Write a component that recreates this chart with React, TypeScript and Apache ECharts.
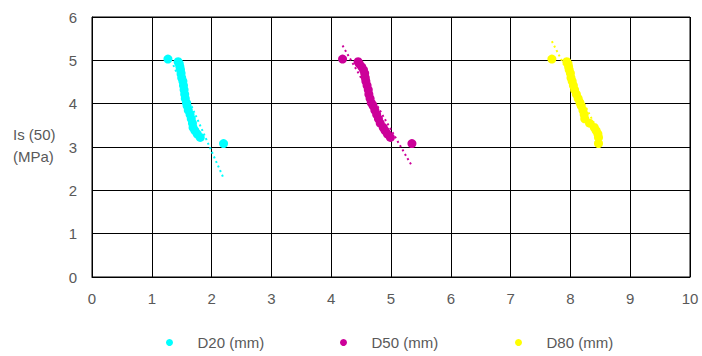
import React, { useEffect, useRef } from "react";
import * as echarts from "echarts";

const isValues = [5.03, 4.97, 4.92, 4.85, 4.78, 4.7, 4.6, 4.52, 4.42, 4.32, 4.22, 4.12, 4.02, 3.95, 3.85, 3.75, 3.65, 3.55, 3.45, 3.38, 3.3, 3.22, 3.08];
const d20 = [1.27, 1.44, 1.46, 1.47, 1.48, 1.49, 1.5, 1.52, 1.53, 1.54, 1.55, 1.56, 1.58, 1.59, 1.61, 1.64, 1.66, 1.68, 1.69, 1.72, 1.76, 1.81, 2.2];
const d50 = [4.19, 4.45, 4.47, 4.51, 4.54, 4.56, 4.57, 4.58, 4.6, 4.62, 4.63, 4.65, 4.67, 4.7, 4.73, 4.76, 4.79, 4.82, 4.87, 4.9, 4.94, 4.99, 5.35];
const d80 = [7.69, 7.94, 7.96, 7.97, 7.98, 8.0, 8.01, 8.03, 8.05, 8.07, 8.1, 8.13, 8.16, 8.18, 8.21, 8.23, 8.24, 8.32, 8.4, 8.43, 8.46, 8.47, 8.47];

// trendline endpoints: [x0, y0, x1, y1]
const trend20 = [1.36, 4.89, 2.2, 2.28];
const trend50 = [4.19, 5.34, 5.35, 2.56];
const trend80 = [7.69, 5.44, 8.47, 3.35];

const seriesNames = ["D20 (mm)", "D50 (mm)", "D80 (mm)"];
const seriesColors = ["#00FFFF", "#CC0099", "#FFFF00"];
const xTicks = [0, 1, 2, 3, 4, 5, 6, 7, 8, 9, 10];
const yTicks = [0, 1, 2, 3, 4, 5, 6];

const FONT = "'Liberation Sans', Arial, sans-serif";

export default function App() {
  const ref = useRef<HTMLDivElement>(null);
  useEffect(() => {
    if (!ref.current) return;
    const chart = echarts.init(ref.current, undefined, { renderer: "svg" });
    const xs = [d20, d50, d80];
    const trends = [trend20, trend50, trend80];
    const series: any[] = [];
    xs.forEach((arr, i) => {
      const t = trends[i];
      series.push({
        name: seriesNames[i] + " trend",
        type: "line",
        data: [[t[0], t[1]], [t[2], t[3]]],
        symbol: "none",
        lineStyle: { color: seriesColors[i], width: 2, type: [2, 3] },
        z: 1,
        silent: true,
      });
    });
    xs.forEach((arr, i) => {
      series.push({
        name: seriesNames[i],
        type: "scatter",
        data: arr.map((x, k) => [x, isValues[k]]),
        symbol: "circle",
        symbolSize: 9,
        itemStyle: { color: seriesColors[i], opacity: 1 },
        z: 3,
      });
    });
    const legendLefts = [161, 335, 510];
    chart.setOption({
      animation: false,
      backgroundColor: "#ffffff",
      textStyle: { fontFamily: FONT },
      grid: { left: 92, right: 12, top: 17, bottom: 79, show: true, borderColor: "#000", borderWidth: 1 },
      xAxis: {
        type: "value",
        min: xTicks[0],
        max: xTicks[xTicks.length - 1],
        interval: 1,
        axisLine: { show: true, lineStyle: { color: "#000", width: 1 } },
        axisTick: { show: false },
        axisLabel: { color: "#595959", fontSize: 15, margin: 14, fontFamily: FONT },
        splitLine: { show: true, lineStyle: { color: "#000", width: 1 } },
      },
      yAxis: {
        type: "value",
        min: yTicks[0],
        max: yTicks[yTicks.length - 1],
        interval: 1,
        axisLine: { show: true, lineStyle: { color: "#000", width: 1 } },
        axisTick: { show: false },
        axisLabel: { color: "#595959", fontSize: 15, margin: 15, fontFamily: FONT },
        splitLine: { show: true, lineStyle: { color: "#000", width: 1 } },
      },
      legend: seriesNames.map((n, i) => ({
        data: [{ name: n, icon: "circle" }],
        left: legendLefts[i],
        top: 330,
        itemWidth: 46,
        itemHeight: 7,
        itemGap: 0,
        selectedMode: false,
        textStyle: { color: "#595959", fontSize: 15, fontFamily: FONT },
      })),
      graphic: [
        {
          type: "text",
          left: 13,
          top: 123,
          style: {
            text: "Is (50)\n(MPa)",
            fill: "#595959",
            font: "15px " + FONT,
            lineHeight: 22,
          },
        },
      ],
      series,
    });
    return () => chart.dispose();
  }, []);
  return <div ref={ref} style={{ width: 702, height: 356, position: "absolute", left: 0, top: 0 }} />;
}
